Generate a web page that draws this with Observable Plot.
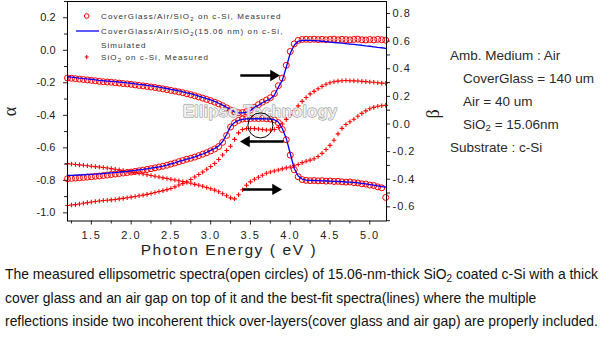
<!DOCTYPE html>
<html>
<head>
<meta charset="utf-8">
<script src="https://cdn.jsdelivr.net/npm/d3@7"></script>
<script src="https://cdn.jsdelivr.net/npm/@observablehq/plot@0.6"></script>
<style>
  html,body{margin:0;padding:0;background:#fff;}
  #wrap{position:relative;width:614px;height:346px;overflow:hidden;background:#fff;}
  #chart svg{display:block;}
  #info{position:absolute;left:450px;top:43.5px;font-family:"Liberation Sans",Arial,sans-serif;font-size:13.5px;color:#2a2a2a;white-space:nowrap;}
  #info div{height:23px;line-height:23px;}
  #info div.ind{padding-left:13px;}
  #caption{position:absolute;left:5px;top:263px;font-family:"Liberation Sans",Arial,sans-serif;font-size:13.9px;line-height:23.5px;color:#111;white-space:nowrap;}
  sub{font-size:0.72em;vertical-align:-0.25em;line-height:0;}
</style>
</head>
<body>
<div id="wrap">
  <div id="chart"></div>
  <div id="info"></div>
  <div id="caption"></div>
</div>
<script>
// ---------------- data ----------------
const energy = [1.20,1.25,1.30,1.35,1.40,1.45,1.50,1.55,1.60,1.65,
  1.70,1.75,1.80,1.85,1.90,1.95,2.00,2.05,2.10,2.15,
  2.20,2.25,2.30,2.35,2.40,2.45,2.50,2.55,2.60,2.65,
  2.70,2.75,2.80,2.85,2.90,2.95,3.00,3.05,3.10,3.15,
  3.20,3.25,3.30,3.35,3.40,3.45,3.50,3.55,3.60,3.65,
  3.70,3.75,3.80,3.85,3.90,3.95,4.00,4.05,4.10,4.15,
  4.20,4.25,4.30,4.35,4.40,4.45,4.50,4.55,4.60,4.65,
  4.70,4.75,4.80,4.85,4.90,4.95,5.00,5.05,5.10,5.15,5.20];

// CoverGlass/Air/SiO2 on c-Si : measured (circles) and simulated (line)
const betaMeasCG = [0.333,0.331,0.328,0.325,0.322,0.319,0.316,0.313,0.309,0.306,
  0.304,0.302,0.299,0.296,0.293,0.290,0.287,0.283,0.279,0.276,
  0.272,0.268,0.264,0.259,0.254,0.249,0.243,0.238,0.232,0.226,
  0.219,0.212,0.204,0.196,0.187,0.178,0.169,0.158,0.146,0.132,
  0.117,0.101,0.088,0.082,0.083,0.089,0.101,0.120,0.140,0.158,
  0.173,0.190,0.220,0.277,0.332,0.425,0.525,0.580,0.605,0.612,
  0.613,0.612,0.614,0.611,0.613,0.610,0.612,0.614,0.610,0.613,
  0.611,0.609,0.612,0.614,0.610,0.608,0.612,0.609,0.613,0.610,0.607];
const betaSimCG = [0.342,0.339,0.336,0.332,0.329,0.326,0.324,0.320,0.316,0.313,
  0.311,0.309,0.307,0.304,0.302,0.298,0.295,0.291,0.287,0.284,
  0.280,0.276,0.272,0.267,0.262,0.257,0.251,0.246,0.240,0.233,
  0.226,0.219,0.211,0.202,0.193,0.184,0.175,0.164,0.150,0.136,
  0.121,0.103,0.088,0.081,0.081,0.085,0.096,0.121,0.135,0.154,
  0.168,0.182,0.208,0.266,0.316,0.411,0.512,0.570,0.599,0.606,
  0.606,0.605,0.604,0.602,0.599,0.596,0.593,0.590,0.588,0.585,
  0.582,0.579,0.576,0.573,0.570,0.566,0.563,0.559,0.555,0.552,0.548];
const alphaMeasCG = [-0.790,-0.788,-0.786,-0.784,-0.782,-0.780,-0.778,-0.775,-0.773,-0.770,
  -0.767,-0.764,-0.761,-0.758,-0.755,-0.752,-0.749,-0.745,-0.741,-0.737,
  -0.733,-0.728,-0.723,-0.718,-0.713,-0.707,-0.700,-0.693,-0.685,-0.678,
  -0.670,-0.664,-0.657,-0.648,-0.639,-0.630,-0.619,-0.607,-0.592,-0.566,
  -0.524,-0.472,-0.446,-0.431,-0.423,-0.421,-0.420,-0.419,-0.420,-0.419,
  -0.421,-0.423,-0.428,-0.445,-0.487,-0.550,-0.645,-0.735,-0.778,-0.795,
  -0.800,-0.802,-0.801,-0.803,-0.802,-0.805,-0.804,-0.807,-0.806,-0.809,
  -0.811,-0.810,-0.814,-0.816,-0.821,-0.823,-0.829,-0.832,-0.840,-0.846,-0.905];
const alphaSimCG = [-0.770,-0.769,-0.768,-0.767,-0.766,-0.764,-0.763,-0.762,-0.760,-0.758,
  -0.756,-0.754,-0.752,-0.750,-0.747,-0.745,-0.742,-0.739,-0.736,-0.733,
  -0.729,-0.725,-0.721,-0.717,-0.712,-0.706,-0.699,-0.692,-0.684,-0.677,
  -0.669,-0.663,-0.656,-0.647,-0.638,-0.628,-0.616,-0.604,-0.588,-0.561,
  -0.518,-0.468,-0.444,-0.431,-0.425,-0.422,-0.421,-0.421,-0.421,-0.421,
  -0.422,-0.424,-0.427,-0.441,-0.481,-0.542,-0.635,-0.727,-0.773,-0.792,
  -0.798,-0.800,-0.801,-0.802,-0.803,-0.804,-0.805,-0.806,-0.807,-0.808,
  -0.810,-0.811,-0.813,-0.816,-0.819,-0.822,-0.826,-0.830,-0.834,-0.838,-0.842];

// SiO2 on c-Si : measured (plus signs)
const betaMeasSi = [-0.287,-0.290,-0.293,-0.296,-0.299,-0.303,-0.306,-0.309,-0.312,-0.315,
  -0.319,-0.323,-0.328,-0.332,-0.337,-0.342,-0.348,-0.352,-0.357,-0.362,
  -0.368,-0.373,-0.379,-0.384,-0.390,-0.395,-0.400,-0.406,-0.411,-0.416,
  -0.422,-0.429,-0.437,-0.444,-0.451,-0.460,-0.469,-0.479,-0.491,-0.505,
  -0.520,-0.535,-0.542,-0.512,-0.476,-0.444,-0.419,-0.400,-0.386,-0.371,
  -0.357,-0.348,-0.340,-0.333,-0.325,-0.318,-0.311,-0.303,-0.293,-0.280,
  -0.270,-0.262,-0.252,-0.236,-0.213,-0.185,-0.155,-0.118,-0.072,-0.032,
  -0.004,0.016,0.034,0.056,0.077,0.095,0.110,0.120,0.128,0.132,0.135];
const alphaMeasSi = [-0.955,-0.952,-0.949,-0.945,-0.941,-0.937,-0.933,-0.930,-0.927,-0.924,
  -0.922,-0.920,-0.918,-0.914,-0.911,-0.907,-0.903,-0.899,-0.895,-0.891,
  -0.886,-0.881,-0.875,-0.869,-0.863,-0.857,-0.850,-0.840,-0.829,-0.820,
  -0.810,-0.795,-0.779,-0.764,-0.749,-0.732,-0.715,-0.696,-0.672,-0.644,
  -0.616,-0.590,-0.548,-0.508,-0.487,-0.481,-0.481,-0.482,-0.484,-0.487,
  -0.490,-0.490,-0.487,-0.474,-0.453,-0.425,-0.397,-0.370,-0.342,-0.314,
  -0.290,-0.268,-0.253,-0.237,-0.222,-0.209,-0.200,-0.194,-0.190,-0.187,
  -0.186,-0.187,-0.188,-0.189,-0.191,-0.193,-0.195,-0.197,-0.200,-0.202,-0.203];

// tick values
const xMajor = [1.5,2.0,2.5,3.0,3.5,4.0,4.5,5.0];
const xMinor = [1.25,1.75,2.25,2.75,3.25,3.75,4.25,4.75];
const alphaMajor = [-1.0,-0.8,-0.6,-0.4,-0.2,0.0,0.2];
const alphaMinor = [-0.9,-0.7,-0.5,-0.3,-0.1,0.1,0.3];
const betaMajor = [-0.6,-0.4,-0.2,0.0,0.2,0.4,0.6,0.8];
const betaMinor = [-0.7,-0.5,-0.3,-0.1,0.1,0.3,0.5,0.7];

// annotations (data units: eV, alpha)
const arrowsRight = [{x1:3.41,x2:3.84,y:-0.155},{x1:3.44,x2:3.865,y:-0.856}];
const arrowsLeft = [{x1:3.88,x2:3.40,y:-0.561}];
const highlight = [{e:3.625,a:-0.462}];
const watermark = [{e:3.62,a:-0.376,label:"Ellipso Technology"}];

// texts
const legendLabels = [["CoverGlass/Air/SiO","2"," on c-Si, Measured"],
  ["CoverGlass/Air/SiO","2","(15.06 nm) on c-Si,"],["Simulated"],["SiO","2"," on c-Si, Measured"]];
const infoLines = ["Amb. Medium : Air","CoverGlass = 140 um","Air = 40 um","SiO<sub>2</sub> = 15.06nm","Substrate : c-Si"];
const infoIndent = [false,true,true,true,false];
const captionLines = ["The measured ellipsometric spectra(open circles) of 15.06-nm-thick SiO<sub>2</sub> coated c-Si with a thick",
  "cover glass and an air gap on top of it and the best-fit spectra(lines) where the multiple",
  "reflections inside two incoherent thick over-layers(cover glass and air gap) are properly included."];

// ---------------- β axis is mapped onto the α scale ----------------
const K = 0.8493, A0 = -0.4533;
const betaPos = b => A0 + K * b;
const betaFmt = a => (Math.round(((a - A0) / K) * 10) / 10 + 0).toFixed(1);

const rows = energy.map((e, i) => ({
  e,
  aMeas: alphaMeasCG[i], aSim: alphaSimCG[i],
  bMeas: betaPos(betaMeasCG[i]), bSim: betaPos(betaSimCG[i]),
  aSi: alphaMeasSi[i], bSi: betaPos(betaMeasSi[i])
}));

const RED = "#ff0000", BLUE = "#0000ff";
const svg = Plot.plot({
  width: 614, height: 270,
  marginLeft: 67, marginRight: 228, marginTop: 1, marginBottom: 49.5,
  x: {domain: [1.2, 5.21], label: null},
  y: {domain: [-1.05, 0.30], label: null},
  style: {fontFamily: "'Liberation Sans', Arial, sans-serif", fontSize: "11px", color: "#222", background: "#fff"},
  marks: [
    Plot.dot(rows, {x: "e", y: "aSi", symbol: "plus", r: 1.6, stroke: RED, strokeWidth: 1.1}),
    Plot.dot(rows, {x: "e", y: "bSi", symbol: "plus", r: 1.6, stroke: RED, strokeWidth: 1.1}),
    Plot.dot(rows, {x: "e", y: "aMeas", r: 3, stroke: RED, fill: "none", strokeWidth: 1}),
    Plot.dot(rows, {x: "e", y: "bMeas", r: 3, stroke: RED, fill: "none", strokeWidth: 1}),
    Plot.line(rows, {x: "e", y: "aSim", stroke: BLUE, strokeWidth: 1.3}),
    Plot.line(rows, {x: "e", y: "bSim", stroke: BLUE, strokeWidth: 1.3}),
    Plot.text(watermark, {x: "e", y: "a", text: "label", fontSize: 17, fontWeight: "bold",
      fill: "#f2f2f2", fillOpacity: 0.85, stroke: "#8c8c8c", strokeWidth: 0.9}),
    Plot.dot(highlight, {x: "e", y: "a", r: 12.5, stroke: "#000", fill: "none", strokeWidth: 1}),
    Plot.link(arrowsRight, {x1: "x1", x2: "x2", y1: "y", y2: "y", stroke: "#000", strokeWidth: 2.5, dx: -3}),
    Plot.dot(arrowsRight, {x: "x2", y: "y", symbol: "triangle", r: 4.2, fill: "#000", rotate: 90, dx: -4}),
    Plot.link(arrowsLeft, {x1: "x1", x2: "x2", y1: "y", y2: "y", stroke: "#000", strokeWidth: 2.5, dx: 3}),
    Plot.dot(arrowsLeft, {x: "x2", y: "y", symbol: "triangle", r: 4.2, fill: "#000", rotate: -90, dx: 4}),
    Plot.frame({stroke: "#000", strokeWidth: 1}),
    Plot.axisX({ticks: xMajor, tickSize: 4, tickPadding: 6, tickFormat: d => d.toFixed(1), label: null}),
    Plot.axisX({ticks: xMinor, tickSize: 3, tickFormat: () => "", label: null}),
    Plot.axisY({anchor: "left", ticks: alphaMajor, tickSize: 4, tickPadding: 8, tickFormat: d => d.toFixed(1), label: null}),
    Plot.axisY({anchor: "left", ticks: alphaMinor, tickSize: 3, tickFormat: () => "", label: null}),
    Plot.axisY({anchor: "right", ticks: betaMajor.map(betaPos), tickSize: 3, tickPadding: 3, tickFormat: betaFmt, label: null}),
    Plot.axisY({anchor: "right", ticks: betaMinor.map(betaPos), tickSize: 3, tickFormat: () => "", label: null}),
    Plot.text(["Photon Energy ( eV )"], {frameAnchor: "bottom", text: d => d, dy: 33.5, dx: 2, fontSize: 15.5, fill: "#222"}),
    Plot.text(["\u03b1"], {frameAnchor: "left", text: d => d, dx: -57, dy: 5, rotate: -90, fontSize: 18, fontFamily: "'Liberation Serif', 'DejaVu Serif', serif", fill: "#222"}),
    Plot.text(["\u03b2"], {frameAnchor: "right", text: d => d, dx: 47, dy: -2, rotate: -90, fontSize: 18, fontFamily: "'Liberation Serif', 'DejaVu Serif', serif", fill: "#222"})
  ]
});
document.getElementById("chart").appendChild(svg);

// letter spacing as in the reference's tick labels
const s = d3.select(svg);
s.selectAll('g[aria-label="x-axis tick label"] text').attr("letter-spacing", "1.5px");
s.selectAll('g[aria-label="y-axis tick label"]').each(function () {
  if (this.getAttribute("text-anchor") === "start") d3.select(this).selectAll("text").attr("letter-spacing", "1px");
});
s.selectAll('text').filter(function(){ return this.textContent === "Photon Energy ( eV )"; }).attr("letter-spacing", "1.6px");

// legend (inside the frame, top-left)
const lg = s.append("g").attr("font-family", "'Liberation Sans', Arial, sans-serif")
  .attr("text-anchor", "start")
  .attr("font-size", 8).attr("fill", "#333").attr("letter-spacing", "1.1px");
const rowY = [16, 31, 45, 57];
lg.append("circle").attr("cx", 86.7).attr("cy", rowY[0]).attr("r", 2.3).attr("fill", "none").attr("stroke", RED).attr("stroke-width", 1);
lg.append("line").attr("x1", 76).attr("x2", 99).attr("y1", rowY[1]).attr("y2", rowY[1]).attr("stroke", BLUE).attr("stroke-width", 1.3);
lg.append("path").attr("d", `M${84.7},${rowY[3]}h4M${86.7},${rowY[3]-2}v4`).attr("stroke", RED).attr("stroke-width", 1.1).attr("fill", "none");
legendLabels.forEach((parts, i) => {
  const t = lg.append("text").attr("x", 101).attr("y", rowY[i]).attr("dy", "0.35em");
  parts.forEach((p, j) => {
    const ts = t.append("tspan").text(p);
    if (j === 1) ts.attr("font-size", 6).attr("dy", "2");
    if (j === 2) ts.attr("dy", "-2");
  });
});

// info box and caption
const info = document.getElementById("info");
infoLines.forEach((txt, i) => {
  const d = document.createElement("div");
  if (infoIndent[i]) d.className = "ind";
  d.innerHTML = txt;
  info.appendChild(d);
});
document.getElementById("caption").innerHTML = captionLines.map(l => `<div>${l}</div>`).join("");
</script>
</body>
</html>
